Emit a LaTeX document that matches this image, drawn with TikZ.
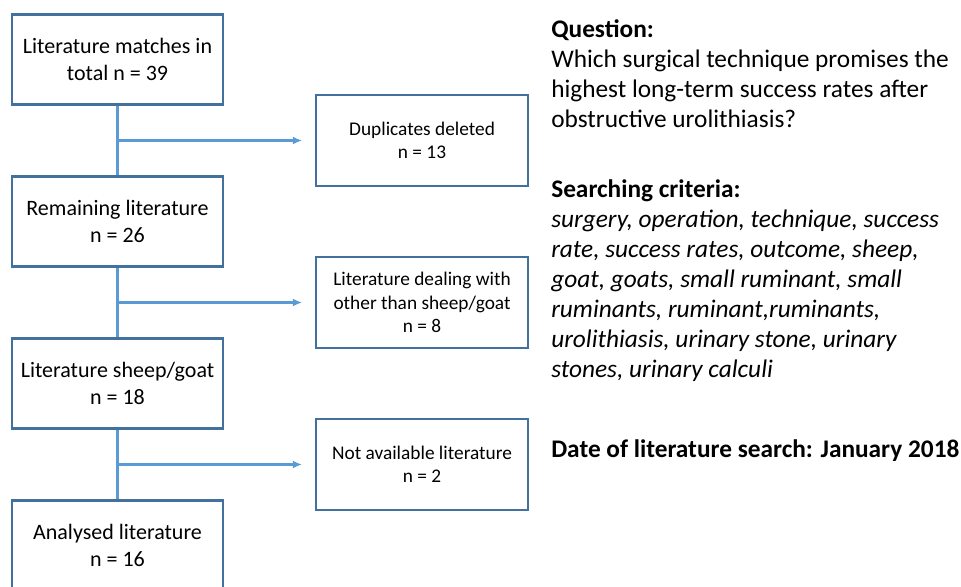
\documentclass[tikz,border=0pt]{standalone}
\usepackage{fontspec}
\setmainfont{Carlito}
\usepackage{tikz}
\usetikzlibrary{arrows.meta,calc,positioning}
\definecolor{boxblue}{HTML}{41719C}
\definecolor{lineblue}{HTML}{5B9BD5}
\tikzstyle{lbox}=[draw=boxblue, line width=1.8pt, minimum width=158pt, minimum height=67.5pt, inner sep=0pt, align=center, font=\fontsize{16.5}{20.25}\selectfont]
\tikzstyle{rbox}=[draw=boxblue, line width=1.8pt, minimum width=159pt, minimum height=68pt, inner sep=0pt, align=center, font=\fontsize{14.5}{17.5}\selectfont]
\tikzstyle{link}=[draw=lineblue, line width=1.6pt]
\tikzstyle{arrow}=[link, -{Latex[length=7pt,width=6pt]}, shorten >=9.5pt]
\tikzstyle{info}=[anchor=north west, inner sep=0pt, align=left, font=\fontsize{19}{22.5}\selectfont]

\begin{document}
\begin{tikzpicture}[x=0.75pt,y=-0.75pt,node distance=121.5pt]
\useasboundingbox (0,0) rectangle (961,586);
\node [lbox] (0) at (117.5,59.5) {Literature matches in\\total n = 39};
\node [lbox, below of=0] (1) {Remaining literature\\n = 26};
\node [lbox, below of=1] (2) {Literature sheep/goat\\n = 18};
\node [lbox, below of=2] (3) {Analysed literature\\n = 16};

\coordinate (0m) at ($(0)!0.5!(1)$);
\coordinate (1m) at ($(1)!0.5!(2)$);
\coordinate (2m) at ($(2)!0.5!(3)$);

\node [rbox, right of=0m, node distance=228.4pt] (0r) {Duplicates deleted\\n = 13};
\node [rbox, right of=1m, node distance=228.4pt] (1r) {Literature dealing with\\other than sheep/goat\\n = 8};
\node [rbox, right of=2m, node distance=228.4pt] (2r) {Not available literature\\n = 2};

\draw [link] (0) -- (1);
\draw [link] (1) -- (2);
\draw [link] (2) -- (3);
\draw [arrow] (0m) -- (0r);
\draw [arrow] (1m) -- (1r);
\draw [arrow] (2m) -- (2r);

\node [info] (q) at (551,19) {\textbf{Question:}\\Which surgical technique promises the\\highest long-term success rates after\\obstructive urolithiasis?};
\node [info] (c) at (551,179) {\textbf{Searching criteria:}\\\itshape surgery, operation, technique, success\\\itshape rate, success rates, outcome, sheep,\\\itshape goat, goats, small ruminant, small\\\itshape ruminants, ruminant,ruminants,\\\itshape urolithiasis, urinary stone, urinary\\\itshape stones, urinary calculi};
\node [info] (d) at (551,439) {\textbf{Date of literature search: January 2018}};
\end{tikzpicture}
\end{document}
